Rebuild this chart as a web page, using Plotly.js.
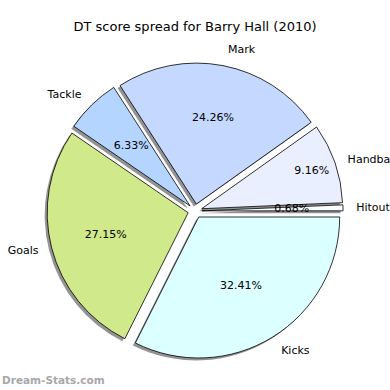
<!DOCTYPE html>
<html>
<head>
<meta charset="utf-8">
<script src="https://cdn.plot.ly/plotly-3.0.1.min.js"></script>
<style>html,body{margin:0;padding:0;background:#fff;}#chart{width:390px;height:390px;}</style>
</head>
<body>
<div id="chart"></div>
<script>
// Data
const categories = ["Hitout", "Handball", "Mark", "Tackle", "Goals", "Kicks"];
const percentages = [0.68, 9.16, 24.26, 6.33, 27.15, 32.41];
const sliceColors = ["#fafbff", "#e9efff", "#c5d8ff", "#b3d5ff", "#d0e98b", "#dcffff"];
const titleText = "DT score spread for Barry Hall (2010)";
const watermark = "Dream-Stats.com";

// Geometry (pixels)
const W = 390, H = 390;
const cx = 195, cy = 211, R = 141, explode = 0.05;
const rot = 87.55;
const font = "DejaVu Sans, sans-serif";

function domainFor(half, dx, dy) {
  dx = dx || 0; dy = dy || 0;
  return {
    x: [(cx + dx - half) / W, (cx + dx + half) / W],
    y: [(H - (cy + dy) - half) / H, (H - (cy + dy) + half) / H]
  };
}

const common = {
  type: "pie", values: percentages, labels: categories, sort: false,
  direction: "counterclockwise", rotation: rot,
  hoverinfo: "none", showlegend: false
};
const clear = categories.map(() => "rgba(0,0,0,0)");
const pctText = percentages.map(v => v.toFixed(2) + "%");
const wide = percentages.map(v => v >= 8);

// shadow
const shadow = Object.assign({}, common, {
  domain: domainFor(R * (1 + explode), -2.5, 2.5),
  pull: categories.map(() => explode),
  marker: {colors: categories.map(() => "rgba(120,120,120,0.8)"), line: {width: 0}},
  textinfo: "none"
});

// main wedges
const main = Object.assign({}, common, {
  domain: domainFor(R * (1 + explode)),
  pull: categories.map(() => explode),
  marker: {colors: sliceColors, line: {color: "#000", width: 0.8}},
  textinfo: "none"
});

// percentages for wide wedges (transparent pie slightly larger)
const Rw = 1.06 * R, pullW = explode * R / Rw;
const pctWide = Object.assign({}, common, {
  domain: domainFor(Rw * (1 + pullW)),
  pull: categories.map(() => pullW),
  marker: {colors: clear, line: {width: 0}},
  text: pctText.map((t, i) => wide[i] ? t : ""),
  textinfo: "text", textposition: "inside", insidetextorientation: "horizontal",
  textfont: {family: font, size: 11, color: "#000"}
});

// percentages for narrow wedges (thin transparent ring at ~0.6 R)
const Rp = 0.65 * R, pullP = explode * R / Rp;
const pctNarrow = Object.assign({}, common, {
  domain: domainFor(Rp * (1 + pullP)),
  hole: 0.55 / 0.65,
  pull: categories.map(() => pullP),
  marker: {colors: clear, line: {width: 0}},
  text: pctText.map((t, i) => wide[i] ? "" : t),
  textinfo: "text", textposition: "inside", insidetextorientation: "horizontal",
  textfont: {family: font, size: 11, color: "#000"}
});

// category labels outside
const labPull = 0.12;
const labelsTrace = Object.assign({}, common, {
  domain: domainFor(R * (1 + labPull)),
  pull: categories.map(() => labPull),
  marker: {colors: clear, line: {width: 0}},
  textinfo: "label", textposition: "outside",
  outsidetextfont: {family: font, size: 10, color: "#000"},
  textfont: {family: font, size: 10, color: "#000"}
});

const layout = {
  width: W, height: H,
  margin: {l: 0, r: 0, t: 0, b: 0},
  paper_bgcolor: "#fff",
  font: {family: font, color: "#000"},
  title: {text: titleText, font: {family: font, size: 13, color: "#000"}, x: 0.5, xanchor: "center", y: 1 - 26 / H, yanchor: "middle"},
  uniformtext: {minsize: 11, mode: "show"},
  annotations: [{
    text: watermark, xref: "paper", yref: "paper", x: 0, y: 10 / H,
    xanchor: "left", yanchor: "middle", showarrow: false,
    font: {family: font, size: 10.5, color: "#a8a8a8", weight: "bold"}
  }]
};

Plotly.newPlot("chart", [shadow, main, pctWide, pctNarrow, labelsTrace], layout, {staticPlot: true});
</script>
</body>
</html>
